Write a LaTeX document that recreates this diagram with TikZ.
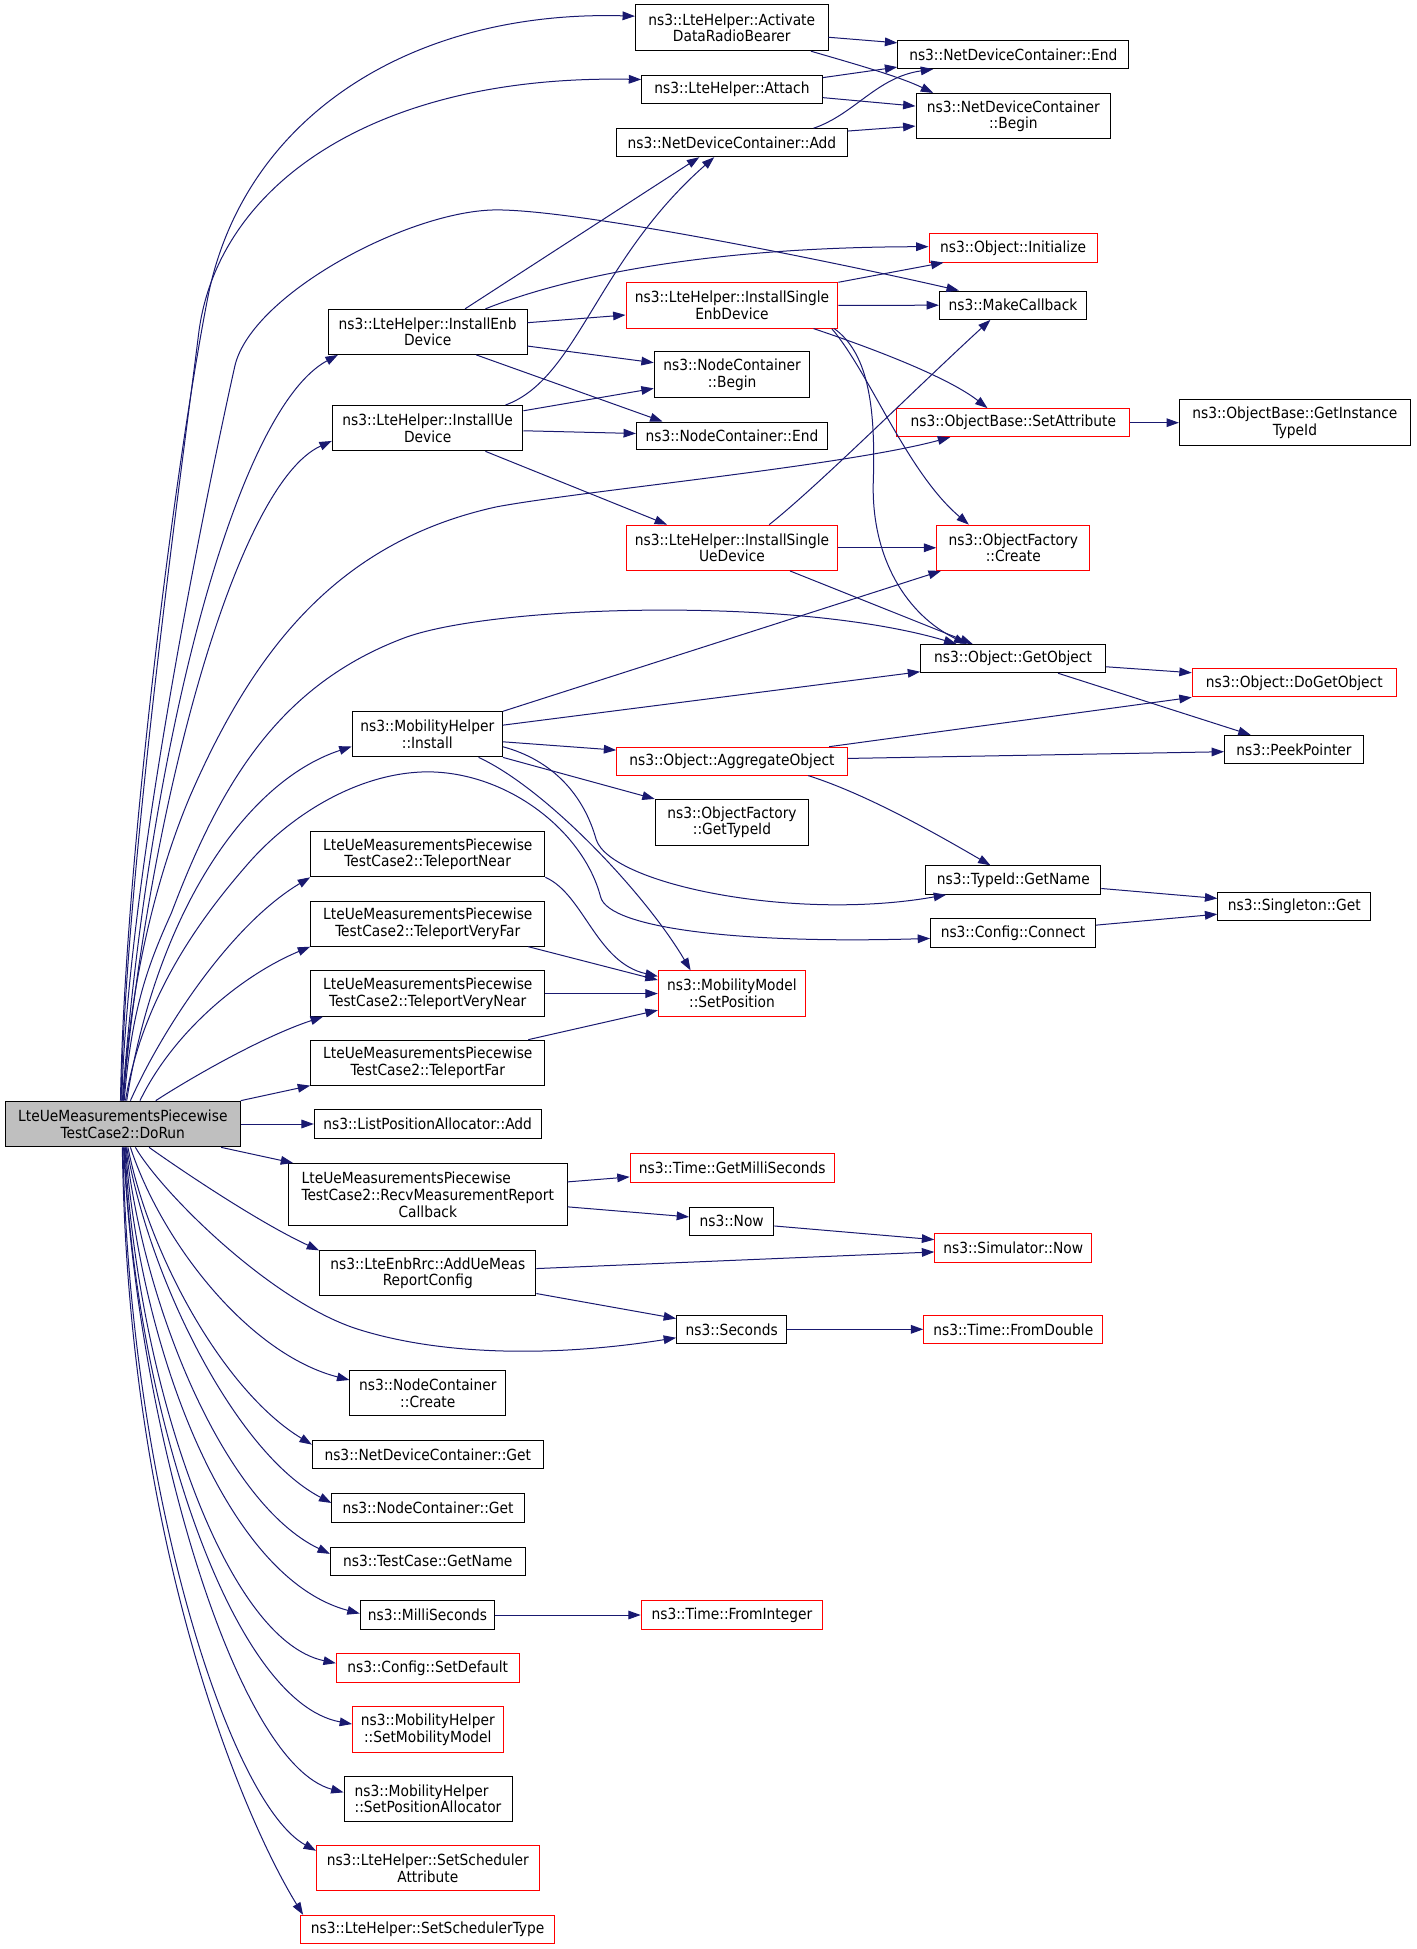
\documentclass[tikz,border=0pt]{standalone}
\usepackage{fontspec}
\setmainfont{DejaVu Sans Condensed}
\usepackage{calc}
\usetikzlibrary{arrows.meta}
\definecolor{edgeblue}{HTML}{191970}
\definecolor{boxred}{HTML}{FF0000}
\definecolor{rootgray}{HTML}{BFBFBF}
\newcommand\dnode[7]{\node[#2, minimum width={#5*0.9315pt}, minimum height={#6*0.9315pt}] (#1) at (#3,#4) {#7};}
\begin{document}
\begin{tikzpicture}[x=0.9315pt,y=-0.9315pt,
  box/.style={draw=black, line width=0.75pt, fill=white, inner sep=0pt, align=center, font=\fontsize{11.5}{12.5}\selectfont},
  redbox/.style={box, draw=boxred},
  rootbox/.style={box, fill=rootgray},
  e/.style={draw=edgeblue, line width=0.75pt, -{Triangle[length=9.3pt,width=6.5pt]}},
]
\useasboundingbox (0,0) rectangle (1140,1569.1);
\fill[white] (0,0) rectangle (1140,1569.1);

\dnode{act}{box}{589.1}{22.4}{155}{36.8}{ns3::LteHelper::Activate\\DataRadioBearer}
\dnode{ndcend}{box}{815.8}{44}{186}{22.6}{ns3::NetDeviceContainer::End}
\dnode{attach}{box}{589.3}{71.8}{145.4}{22.8}{ns3::LteHelper::Attach}
\dnode{ndcbegin}{box}{815.8}{93.5}{156.7}{36.5}{ns3::NetDeviceContainer\\::Begin}
\dnode{ndcadd}{box}{589.3}{114.9}{185.6}{22.5}{ns3::NetDeviceContainer::Add}
\dnode{init}{redbox}{815.6}{199.6}{135.3}{22.8}{ns3::Object::Initialize}
\dnode{isenb}{redbox}{589.3}{245.9}{170.6}{36.5}{ns3::LteHelper::InstallSingle\\EnbDevice}
\dnode{mkcb}{box}{815.6}{245.7}{118.6}{22.8}{ns3::MakeCallback}
\dnode{ienb}{box}{344.3}{267.2}{160}{36.3}{ns3::LteHelper::InstallEnb\\Device}
\dnode{ncbegin}{box}{589.4}{301.6}{125.3}{36.8}{ns3::NodeContainer\\::Begin}
\dnode{iue}{box}{344.3}{344.7}{153.5}{36.5}{ns3::LteHelper::InstallUe\\Device}
\dnode{setattr}{redbox}{815.8}{340.3}{187.7}{22.6}{ns3::ObjectBase::SetAttribute}
\dnode{getinst}{box}{1042.5}{340.3}{186}{36.6}{ns3::ObjectBase::GetInstance\\TypeId}
\dnode{ncend}{box}{589.3}{351}{153.8}{22.5}{ns3::NodeContainer::End}
\dnode{isue}{redbox}{589.3}{441}{170.6}{36.5}{ns3::LteHelper::InstallSingle\\UeDevice}
\dnode{ofcreate}{redbox}{815.8}{441}{123.2}{36.5}{ns3::ObjectFactory\\::Create}
\dnode{getobj}{box}{815.6}{530.2}{148.8}{22.8}{ns3::Object::GetObject}
\dnode{dogetobj}{redbox}{1042}{549.7}{164.3}{22.6}{ns3::Object::DoGetObject}
\dnode{minstall}{box}{344}{591.2}{121}{36.3}{ns3::MobilityHelper\\::Install}
\dnode{aggobj}{redbox}{589.3}{612.8}{185.6}{22.5}{ns3::Object::AggregateObject}
\dnode{peek}{box}{1041.8}{603.3}{112}{22.5}{ns3::PeekPointer}
\dnode{oftypeid}{box}{589.3}{662}{123.6}{36.8}{ns3::ObjectFactory\\::GetTypeId}
\dnode{tpnear}{box}{344.4}{687.8}{188.6}{36.2}{LteUeMeasurementsPiecewise\\TestCase2::TeleportNear}
\dnode{getname}{box}{815.8}{708.5}{140.8}{22.9}{ns3::TypeId::GetName}
\dnode{singleton}{box}{1042}{729.9}{123.1}{22.8}{ns3::Singleton::Get}
\dnode{tpvfar}{box}{344.4}{743.9}{188.6}{35.7}{LteUeMeasurementsPiecewise\\TestCase2::TeleportVeryFar}
\dnode{connect}{box}{815.6}{751.1}{132.8}{22.8}{ns3::Config::Connect}
\dnode{setpos}{redbox}{589.3}{799.9}{118.6}{36.5}{ns3::MobilityModel\\::SetPosition}
\dnode{tpvnear}{box}{344.4}{799.9}{188.6}{36.5}{LteUeMeasurementsPiecewise\\TestCase2::TeleportVeryNear}
\dnode{tpfar}{box}{344.4}{855.5}{188.6}{36.2}{LteUeMeasurementsPiecewise\\TestCase2::TeleportFar}
\dnode{dorun}{rootbox}{98.9}{904.9}{189}{36.8}{LteUeMeasurementsPiecewise\\TestCase2::DoRun}
\dnode{listpos}{box}{344.3}{904.9}{182.5}{22.8}{ns3::ListPositionAllocator::Add}
\dnode{getms}{redbox}{589.5}{940.4}{164.3}{22.8}{ns3::Time::GetMilliSeconds}
\dnode{recv}{box}{344.4}{961.8}{224.3}{50.2}{\makebox[\widthof{TestCase2::RecvMeasurementReport}][l]{LteUeMeasurementsPiecewise}\\TestCase2::RecvMeasurementReport\\Callback}
\dnode{now}{box}{589.1}{983.3}{67.8}{22.8}{ns3::Now}
\dnode{simnow}{redbox}{815.8}{1004.8}{126.5}{22.8}{ns3::Simulator::Now}
\dnode{addue}{box}{344.4}{1025.2}{174.1}{36.3}{ns3::LteEnbRrc::AddUeMeas\\ReportConfig}
\dnode{seconds}{box}{589.1}{1070.2}{88.8}{22.9}{ns3::Seconds}
\dnode{fromdouble}{redbox}{815.8}{1070.2}{144.2}{22.9}{ns3::Time::FromDouble}
\dnode{nccreate}{box}{344.4}{1121.8}{125.4}{36.2}{ns3::NodeContainer\\::Create}
\dnode{ndcget}{box}{344.4}{1171.2}{185.8}{22.3}{ns3::NetDeviceContainer::Get}
\dnode{ncget}{box}{344.6}{1214.1}{154.8}{22.8}{ns3::NodeContainer::Get}
\dnode{tcname}{box}{344.4}{1257}{156.8}{22.8}{ns3::TestCase::GetName}
\dnode{ms}{box}{344.2}{1300.2}{108.4}{22.8}{ns3::MilliSeconds}
\dnode{fromint}{redbox}{589.3}{1300.2}{146.2}{22.8}{ns3::Time::FromInteger}
\dnode{setdef}{redbox}{344.4}{1342.9}{147.2}{22.8}{ns3::Config::SetDefault}
\dnode{setmm}{redbox}{344.4}{1392.4}{121.1}{36.5}{ns3::MobilityHelper\\::SetMobilityModel}
\dnode{setpa}{box}{344.6}{1448.1}{135.2}{36.2}{\makebox[\widthof{::SetPositionAllocator}][l]{ns3::MobilityHelper}\\::SetPositionAllocator}
\dnode{setsa}{redbox}{344.4}{1503.9}{179.2}{36.2}{ns3::LteHelper::SetScheduler\\Attribute}
\dnode{setst}{redbox}{344.2}{1553.3}{205}{22.7}{ns3::LteHelper::SetSchedulerType}

% upper cluster
\draw[e] (act.east |- 0,30) -- (ndcend.west |- 0,34.5);
\draw[e] (act.south -| 652.8,0) .. controls (690,52) and (725,62) .. (ndcbegin.north -| 751.3,0);
\draw[e] (attach.east |- 0,62.5) -- (ndcend.west |- 0,54);
\draw[e] (attach.east |- 0,78.6) -- (ndcbegin.west |- 0,85.4);
\draw[e] (ndcadd.north -| 655,0) .. controls (688,92) and (706,62) .. (ndcend.south -| 751.3,0);
\draw[e] (ndcadd.east |- 0,105.5) -- (ndcbegin.west |- 0,101.5);
\draw[e] (ienb.north -| 374.4,0) -- (ndcadd.south -| 563,0);
\draw[e] (ienb.north -| 390.8,0) .. controls (450,225) and (560,199) .. (init.west |- 0,198.6);
\draw[e] (ienb.east |- 0,259.8) -- (isenb.west |- 0,253.6);
\draw[e] (ienb.east |- 0,278.6) -- (ncbegin.west |- 0,292);
\draw[e] (ienb.south -| 383.5,0) -- (ncend.north -| 533.4,0);
\draw[e] (iue.north -| 407,0) .. controls (465,305) and (480,210) .. (ndcadd.south -| 575,0);
\draw[e] (iue.east |- 0,330.7) -- (ncbegin.west |- 0,312.7);
\draw[e] (iue.east |- 0,346.8) -- (ncend.west |- 0,349);
\draw[e] (iue.south -| 390.8,0) -- (isue.north -| 537,0);
\draw[e] (isenb.north east) -- (init.south -| 759.6,0);
\draw[e] (isenb.east) -- (mkcb.west);
\draw[e] (isenb.south -| 655,0) .. controls (710,283) and (765,305) .. (setattr.north -| 795,0);
\draw[e] (isenb.south -| 669.6,0) .. controls (700,300) and (730,380) .. (ofcreate.north -| 780,0);
\draw[e] (isenb.south -| 671.6,0) .. controls (700,285) and (705,330) .. (703,390) .. controls (702,450) and (730,495) .. (getobj.north -| 778,0);
\draw[e] (setattr.east) -- (getinst.west);
\draw[e] (isue.north -| 619.3,0) .. controls (660,390) and (740,310) .. (mkcb.south -| 797.4,0);
\draw[e] (isue.east) -- (ofcreate.west);
\draw[e] (isue.south -| 636,0) -- (getobj.north -| 783,0);
\draw[e] (minstall.north east) -- (ofcreate.south -| 757.5,0);
\draw[e] (minstall.east |- 0,583.8) -- (getobj.west |- 0,540.8);
\draw[e] (minstall.east |- 0,597.2) -- (aggobj.west |- 0,603.9);
\draw[e] (minstall.south east) -- (oftypeid.north west);
\draw[e] (minstall.east |- 0,601.2) .. controls (445,612) and (470,640) .. (480,676) .. controls (492,712) and (640,742) .. (getname.south -| 761.7,0);
\draw[e] (minstall.south -| 385.3,0) .. controls (440,635) and (520,720) .. (setpos.north -| 556,0);
\draw[e] (getobj.east |- 0,536.8) -- (dogetobj.west |- 0,541.6);
\draw[e] (getobj.south -| 851.8,0) -- (peek.north -| 1006.9,0);
\draw[e] (aggobj.north -| 667.5,0) -- (dogetobj.south west);
\draw[e] (aggobj.east |- 0,610.6) -- (peek.west |- 0,605.2);
\draw[e] (aggobj.south -| 650.7,0) .. controls (700,640) and (760,675) .. (getname.north -| 797.4,0);
\draw[e] (getname.east |- 0,715.3) -- (singleton.west |- 0,723.3);
\draw[e] (connect.east |- 0,744.8) -- (singleton.west |- 0,736);
\draw[e] (tpnear.south east) .. controls (470,720) and (480,775) .. (setpos.west |- 0,786);
\draw[e] (tpvfar.south -| 425.3,0) -- (setpos.west |- 0,789);
\draw[e] (tpvnear.east) -- (setpos.west);
\draw[e] (tpfar.north -| 425.3,0) -- (setpos.west |- 0,813.3);
\draw[e] (recv.east |- 0,951.5) -- (getms.west |- 0,947.5);
\draw[e] (recv.east |- 0,971.6) -- (now.west |- 0,979.7);
\draw[e] (now.east |- 0,987) -- (simnow.west |- 0,998);
\draw[e] (addue.east |- 0,1021.3) -- (simnow.west |- 0,1007.9);
\draw[e] (addue.east |- 0,1041.4) -- (seconds.west |- 0,1061.5);
\draw[e] (seconds.east) -- (fromdouble.west);
\draw[e] (ms.east) -- (fromint.west);

% DoRun upward
\draw[e] (dorun.east) -- (listpos.west);
\draw[e] (dorun.north east) -- (tpfar.south west);
\draw[e] (dorun.north -| 125.4,0) .. controls (150,870) and (210,835) .. (tpvnear.south -| 260,0);
\draw[e] (dorun.north -| 112.7,0) .. controls (140,830) and (195,785) .. (tpvfar.south west);
\draw[e] (dorun.north -| 105,0) .. controls (130,830) and (185,745) .. (tpnear.south west);
\draw[e] (dorun.north -| 101,0) .. controls (115,800) and (165,735) .. (200,695) .. controls (235,655) and (290,621.4) .. (345,621.4) .. controls (410,622) and (470,670) .. (483.5,722) .. controls (490,748) and (600,760) .. (connect.west |- 0,755.5);
\draw[e] (dorun.north -| 102,0) .. controls (125,740) and (195,630) .. (minstall.west |- 0,601);
\draw[e] (dorun.north -| 100,0) .. controls (106,810) and (120,775) .. (138,735) .. controls (177,632) and (224,551) .. (327,513) .. controls (400,487) and (640,480) .. (getobj.north -| 770,0);
\draw[e] (dorun.north -| 99.5,0) .. controls (104,790) and (128,700) .. (153,641) .. controls (205,521.4) and (273,435.8) .. (400,408) .. controls (470,395) and (680,375) .. (setattr.south -| 765,0);
\draw[e] (dorun.north -| 99,0) .. controls (120,650) and (190,390) .. (iue.west |- 0,355);
\draw[e] (dorun.north -| 98.5,0) .. controls (120,600) and (190,330) .. (ienb.south -| 272,0);
\draw[e] (dorun.north -| 98,0) .. controls (103,700) and (170,380) .. (189,295) .. controls (202,237) and (330,169) .. (400,169) .. controls (470,169) and (690,215) .. (mkcb.north -| 772,0);
\draw[e] (dorun.north -| 97.5,0) .. controls (101,700) and (150,350) .. (160,268) .. controls (175,150) and (300,60) .. (attach.west |- 0,64);
\draw[e] (dorun.north -| 97,0) .. controls (100,700) and (140,380) .. (167,241) .. controls (195,95) and (330,8) .. (act.west |- 0,13);

% DoRun downward
\draw[e] (dorun.south -| 178,0) -- (recv.north -| 236,0);
\draw[e] (dorun.south -| 120,0) .. controls (150,945) and (210,985) .. (addue.north west);
\draw[e] (dorun.south -| 109,0) .. controls (130,960) and (220,1050) .. (291,1071) .. controls (360,1092) and (450,1092) .. (seconds.west |- 0,1077);
\draw[e] (dorun.south -| 105,0) .. controls (130,1000) and (200,1090) .. (nccreate.west |- 0,1111);
\draw[e] (dorun.south -| 103,0) .. controls (120,1010) and (180,1120) .. (ndcget.west |- 0,1163);
\draw[e] (dorun.south -| 102,0) .. controls (120,1030) and (190,1170) .. (ncget.west |- 0,1210);
\draw[e] (dorun.south -| 101.5,0) .. controls (115,1050) and (180,1210) .. (tcname.west |- 0,1251);
\draw[e] (dorun.south -| 101,0) .. controls (112,1080) and (180,1270) .. (ms.west |- 0,1299);
\draw[e] (dorun.south -| 100.5,0) .. controls (110,1110) and (180,1320) .. (setdef.west |- 0,1339);
\draw[e] (dorun.south -| 100,0) .. controls (108,1130) and (185,1370) .. (setmm.west |- 0,1388);
\draw[e] (dorun.south -| 99.5,0) .. controls (110,1150) and (190,1420) .. (setpa.west |- 0,1443);
\draw[e] (dorun.south -| 99,0) .. controls (104,1200) and (185,1452) .. (setsa.west |- 0,1490);
\draw[e] (dorun.south -| 98.5,0) .. controls (103,1250) and (198,1467) .. (setst.north -| 244,0);
\end{tikzpicture}
\end{document}
